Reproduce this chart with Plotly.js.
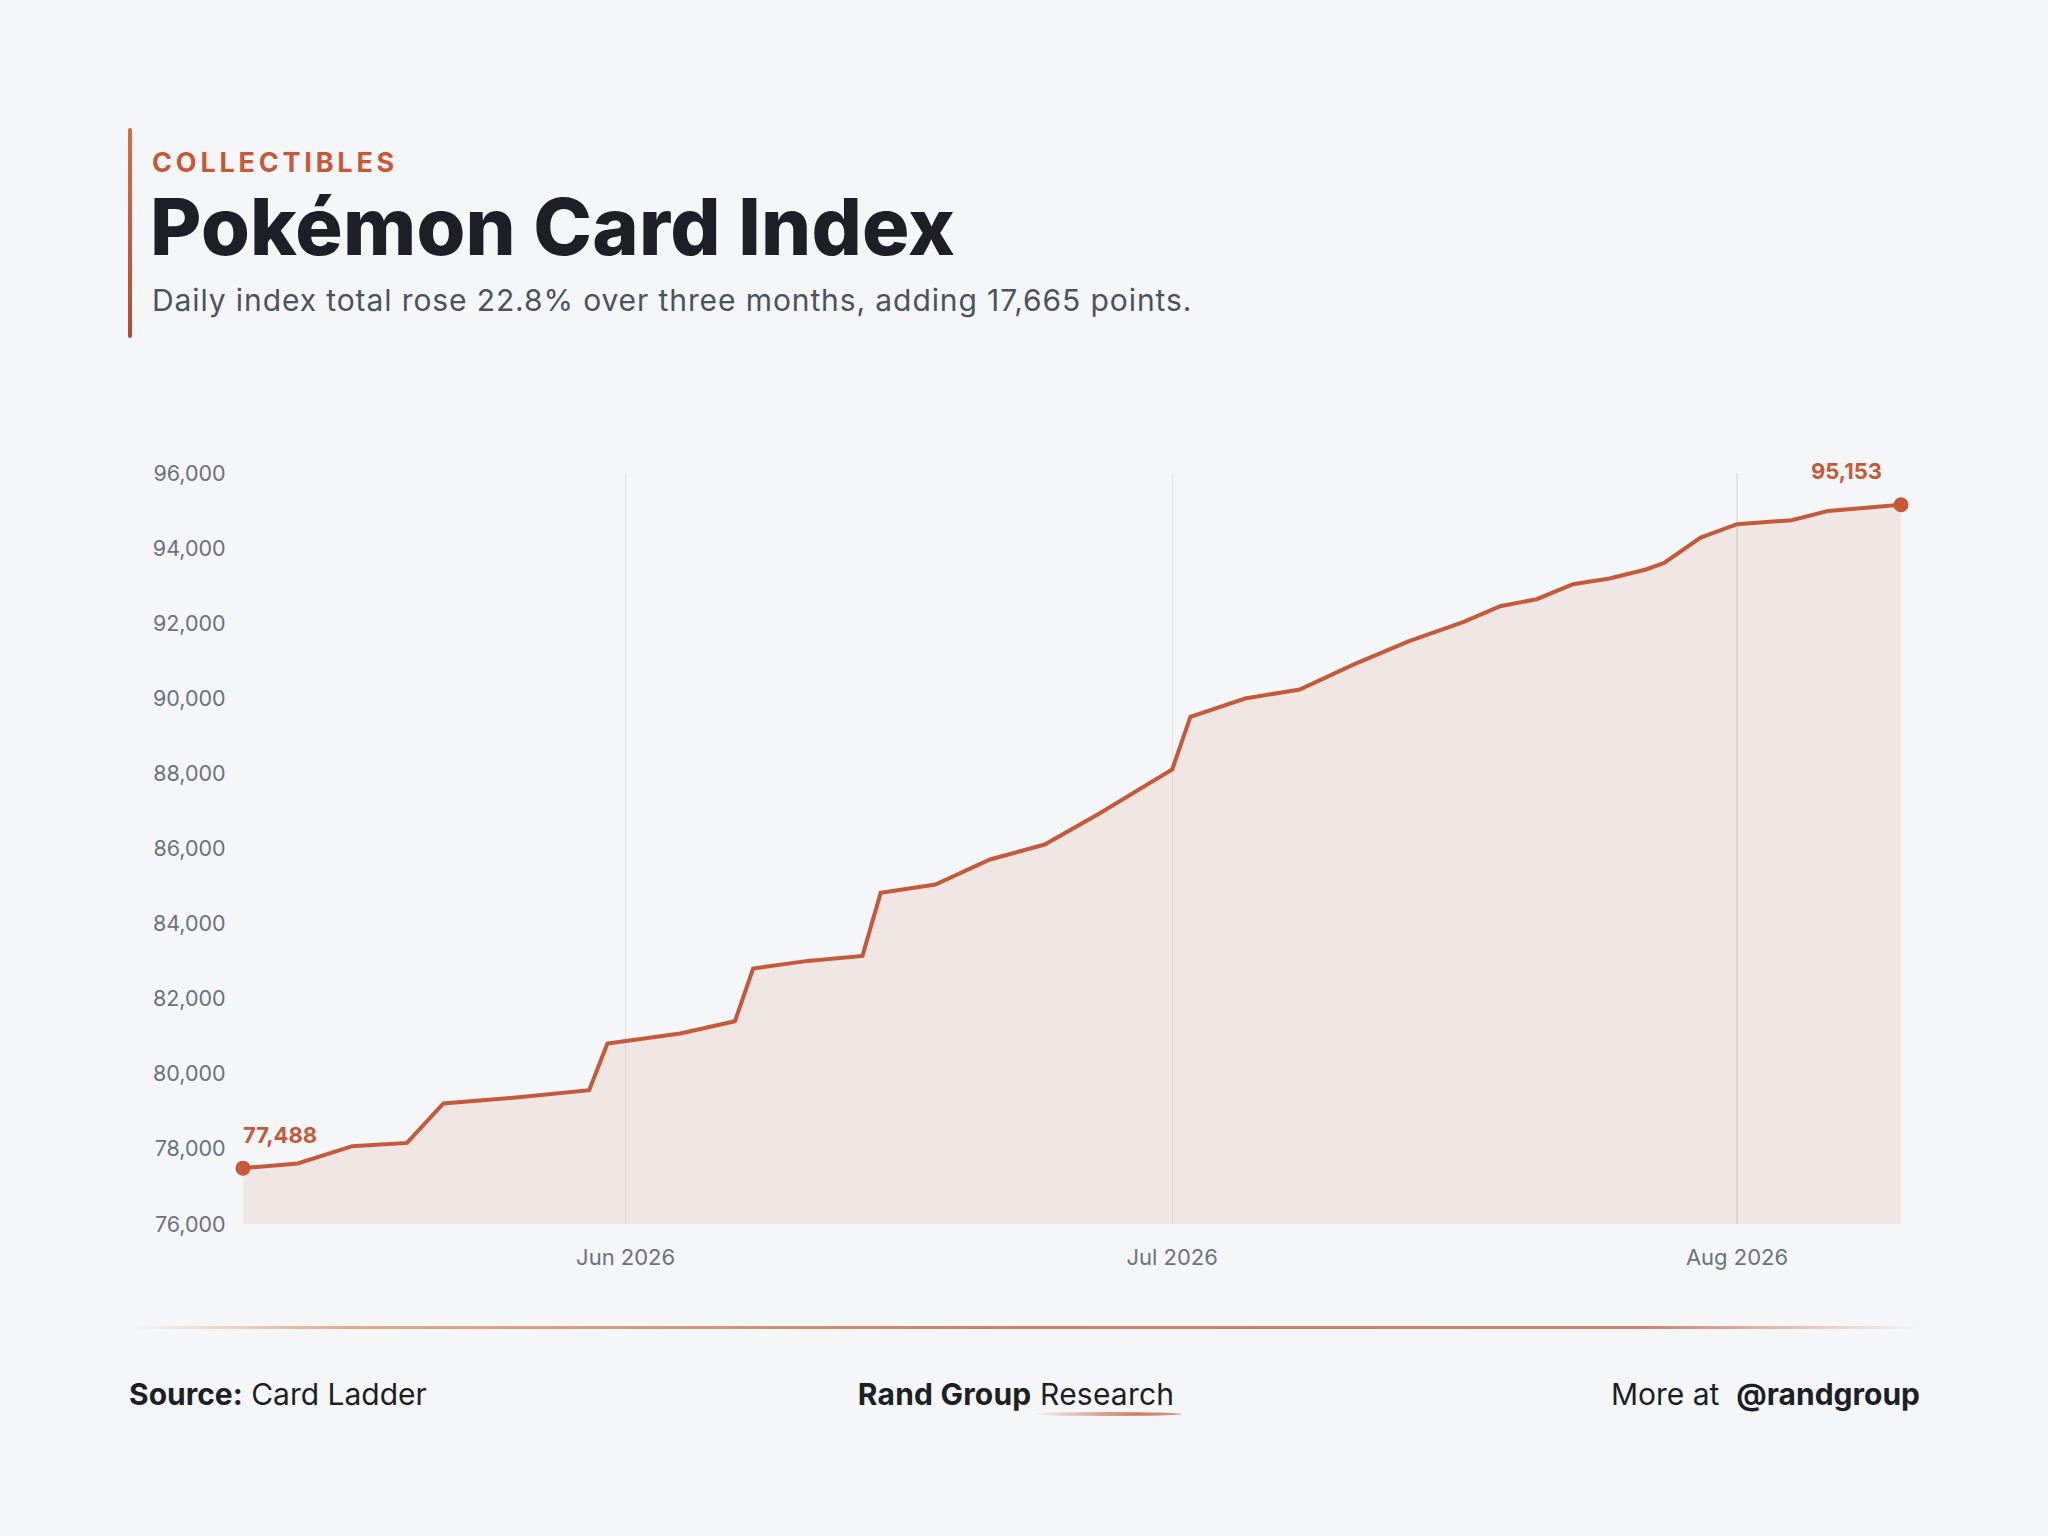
<!DOCTYPE html>
<html>
<head>
<meta charset="utf-8">
<script src="https://cdn.plot.ly/plotly-3.0.1.min.js"></script>
<style>
  html, body { margin:0; padding:0; background:#f5f6f8; }
  #page { position:relative; width:2048px; height:1536px; background:#f5f6f8; overflow:hidden; font-family: Inter, "Noto Sans", sans-serif; }
  #chart { position:absolute; left:0; top:0; width:2048px; height:1536px; }
  .abs { position:absolute; white-space:nowrap; }
  #bar { left:128px; top:128px; width:4px; height:210px; background:linear-gradient(#d2703f, #b84a35); border-radius:2px; }
  #kicker { left:152px; top:146px; font-size:27px; font-weight:700; letter-spacing:3.8px; color:#c55a3a; line-height:34px; }
  #title { left:150px; top:178px; font-size:79px; font-weight:800; letter-spacing:0.2px; color:#1c1f26; line-height:96px; }
  #subtitle { left:152px; top:280px; font-size:30px; font-weight:400; letter-spacing:0.9px; color:#4b5262; line-height:40px; }
  #sep { left:130px; top:1326px; width:1790px; height:3px; background:linear-gradient(90deg, rgba(214,140,100,0) 0%, rgba(214,140,100,0.7) 12%, rgba(196,106,82,0.85) 50%, rgba(196,106,82,0.8) 85%, rgba(196,106,82,0) 100%); }
  .foot { top:1375px; font-size:30px; color:#1c1f26; line-height:38px; }
  #source { left:129px; }
  #brand { left:0; width:2032px; text-align:center; letter-spacing:0.2px; }
  #more { right:128px; }
  #swoosh { left:1036px; top:1412px; width:146px; height:4px; border-radius:50%; background:linear-gradient(90deg, rgba(214,140,100,0.1), rgba(200,110,85,0.9) 70%, rgba(190,100,80,0.6)); }
</style>
</head>
<body>
<div id="page">
  <div id="chart"></div>
  <div class="abs" id="bar"></div>
  <div class="abs" id="kicker">COLLECTIBLES</div>
  <div class="abs" id="title">Pokémon Card Index</div>
  <div class="abs" id="subtitle">Daily index total rose 22.8% over three months, adding 17,665 points.</div>
  <div class="abs" id="sep"></div>
  <div class="abs foot" id="source"><b>Source:</b> Card Ladder</div>
  <div class="abs foot" id="brand"><b>Rand Group</b> Research</div>
  <div class="abs" id="swoosh"></div>
  <div class="abs foot" id="more">More at&nbsp; <b>@randgroup</b></div>
</div>
<script>
const dates = [
  "2026-05-11","2026-05-14","2026-05-17","2026-05-20","2026-05-22","2026-05-26","2026-05-30","2026-05-31",
  "2026-06-04","2026-06-07","2026-06-08","2026-06-11","2026-06-14","2026-06-15","2026-06-18","2026-06-21",
  "2026-06-24","2026-06-27","2026-07-01","2026-07-02","2026-07-05","2026-07-08","2026-07-11","2026-07-14",
  "2026-07-17","2026-07-19","2026-07-21","2026-07-23","2026-07-25","2026-07-27","2026-07-28","2026-07-30",
  "2026-08-01","2026-08-04","2026-08-06","2026-08-10"
];
const indexValues = [
  77488, 77611, 78072, 78160, 79209, 79369, 79563, 80807,
  81073, 81401, 82804, 83007, 83140, 84818, 85041, 85707,
  86106, 86932, 88104, 89505, 89995, 90234, 90908, 91521,
  92035, 92453, 92639, 93039, 93190, 93430, 93606, 94282,
  94636, 94743, 94991, 95153
];
const yTicks = [76000, 78000, 80000, 82000, 84000, 86000, 88000, 90000, 92000, 94000, 96000];

const accent = "#c55a3a";
const n = dates.length;
const fmt = v => v.toLocaleString("en-US");

const traces = [
  {
    x: dates, y: indexValues, type: "scatter", mode: "lines",
    line: { color: accent, width: 4 },
    fill: "tozeroy", fillcolor: "rgba(197,90,58,0.10)",
    hoverinfo: "skip"
  },
  {
    x: [dates[0], dates[n-1]], y: [indexValues[0], indexValues[n-1]],
    type: "scatter", mode: "markers", cliponaxis: false,
    marker: { color: accent, size: 15 },
    hoverinfo: "skip"
  }
];

const layout = {
  width: 2048, height: 1536,
  paper_bgcolor: "rgba(0,0,0,0)", plot_bgcolor: "rgba(0,0,0,0)",
  margin: { l: 243, r: 147, t: 473, b: 312 },
  showlegend: false,
  font: { family: "Inter, 'Noto Sans', sans-serif", color: "#6b7280", size: 21 },
  xaxis: {
    type: "date",
    range: [dates[0], dates[n-1]],
    tick0: "2026-06-01", dtick: "M1",
    tickformat: "%b %Y",
    showgrid: true, gridcolor: "#e5e3e3", gridwidth: 1.3,
    zeroline: false, showline: false,
    ticks: "outside", ticklen: 14, tickcolor: "rgba(0,0,0,0)",
    tickfont: { size: 22, color: "#6b7280" },
    fixedrange: true
  },
  yaxis: {
    range: [yTicks[0], yTicks[yTicks.length-1]],
    tickvals: yTicks,
    ticktext: yTicks.map(fmt),
    showgrid: false, zeroline: false, showline: false,
    ticks: "outside", ticklen: 12, tickcolor: "rgba(0,0,0,0)",
    tickfont: { size: 21.5, color: "#6b7280" },
    fixedrange: true
  },
  annotations: [
    {
      x: dates[0], y: indexValues[0], xref: "x", yref: "y",
      text: "<b>" + fmt(indexValues[0]) + "</b>", showarrow: false,
      xanchor: "left", yanchor: "middle", xshift: -2, yshift: 33,
      font: { size: 22, color: accent }
    },
    {
      x: dates[n-1], y: indexValues[n-1], xref: "x", yref: "y",
      text: "<b>" + fmt(indexValues[n-1]) + "</b>", showarrow: false,
      xanchor: "right", yanchor: "middle", xshift: -17, yshift: 34,
      font: { size: 22, color: accent }
    }
  ]
};

Plotly.newPlot("chart", traces, layout, { staticPlot: true, displayModeBar: false });
</script>
</body>
</html>
